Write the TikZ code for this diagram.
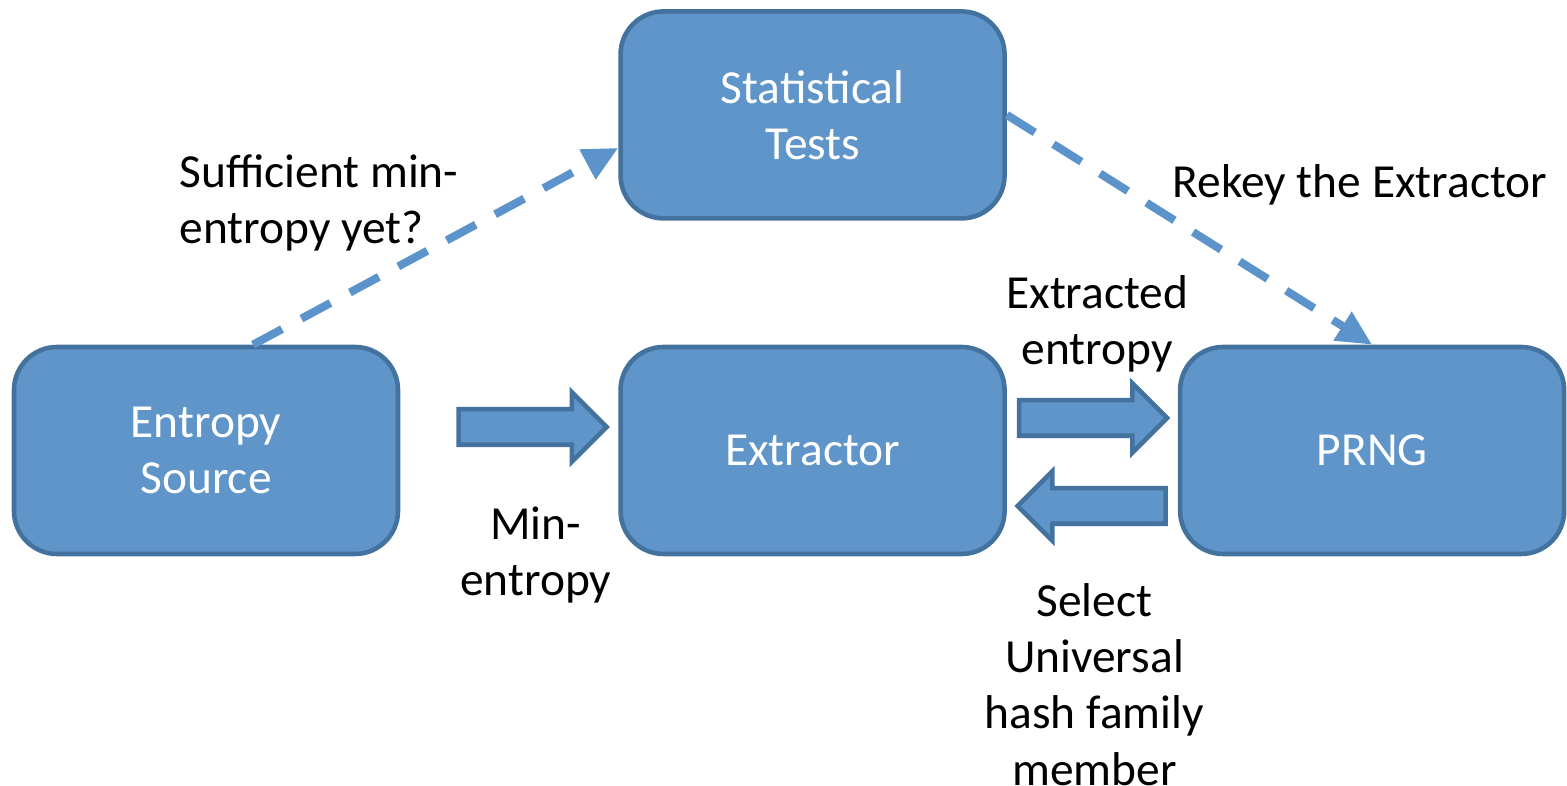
\documentclass[tikz,border=0pt]{standalone}
\usepackage{fontspec}
\setmainfont{Carlito}
\usepackage{tikz}
\usetikzlibrary{shapes,arrows,arrows.meta,positioning,calc}
\usepackage{xcolor}
\definecolor{boxfill}{HTML}{5F95C8}
\definecolor{boxline}{HTML}{44729F}
\definecolor{dashline}{HTML}{5B93CA}
\tikzstyle{block} = [rectangle, rounded corners=0.43cm, minimum width=3.84cm, minimum height=2.07cm, align=center, draw=boxline, line width=1.3pt, fill=boxfill, text=white]
\tikzstyle{blockarrow} = [single arrow, single arrow head extend=0.17cm, minimum height=1.48cm, inner xsep=0pt, inner ysep=0.155cm, draw=boxline, line width=1.3pt, fill=boxfill]
\tikzstyle{note} = [align=center, text=black]
\tikzstyle{dasharrow} = [draw=dashline, line width=2.3pt, dash pattern=on 0.33cm off 0.22cm, -{Triangle[length=0.35cm,width=0.32cm]}]

\begin{document}
\begin{tikzpicture}[font=\fontsize{13.5}{16}\selectfont]
    \useasboundingbox (0,0) rectangle (15.67,7.86);
    % Boxes
    \node (src) [block] at (2.06,3.355) {Entropy\\Source};
    \node (ext) [block, right=2.18cm of src] {Extractor};
    \node (prng) [block, right=1.71cm of ext] {PRNG};
    \node (tests) [block, above=1.24cm of ext] {Statistical\\Tests};

    % Block arrows
    \node (a1) [blockarrow, right=0.56cm of src.east, yshift=0.235cm] {};
    \node (a2) [blockarrow, right=0.1cm of ext.east, yshift=0.325cm] {};
    \node (a3) [blockarrow, shape border rotate=180, left=0.1cm of prng.west, yshift=-0.555cm] {};

    % Labels
    \node (minlbl) [note, below=0.47cm of a1, xshift=0.12cm] {Min-\\entropy};
    \node (extlbl) [note, above=0.13cm of a2, xshift=0.13cm] {Extracted\\entropy};
    \node (sellbl) [note, below=0.45cm of a3, xshift=-0.06cm] {Select\\Universal\\hash family\\member};
    \node (suflbl) [note, align=left] at (3.19,5.83) {Sufficient min-\\entropy yet?};
    \node (rekey) [note] at (13.6,6.01) {Rekey the Extractor};

    % Dashed arrows
    \draw [dasharrow] ([xshift=0.47cm]src.north) -- ([yshift=-0.33cm]tests.west);
    \draw [dasharrow] (tests.east) -- (prng.north);
\end{tikzpicture}
\end{document}
